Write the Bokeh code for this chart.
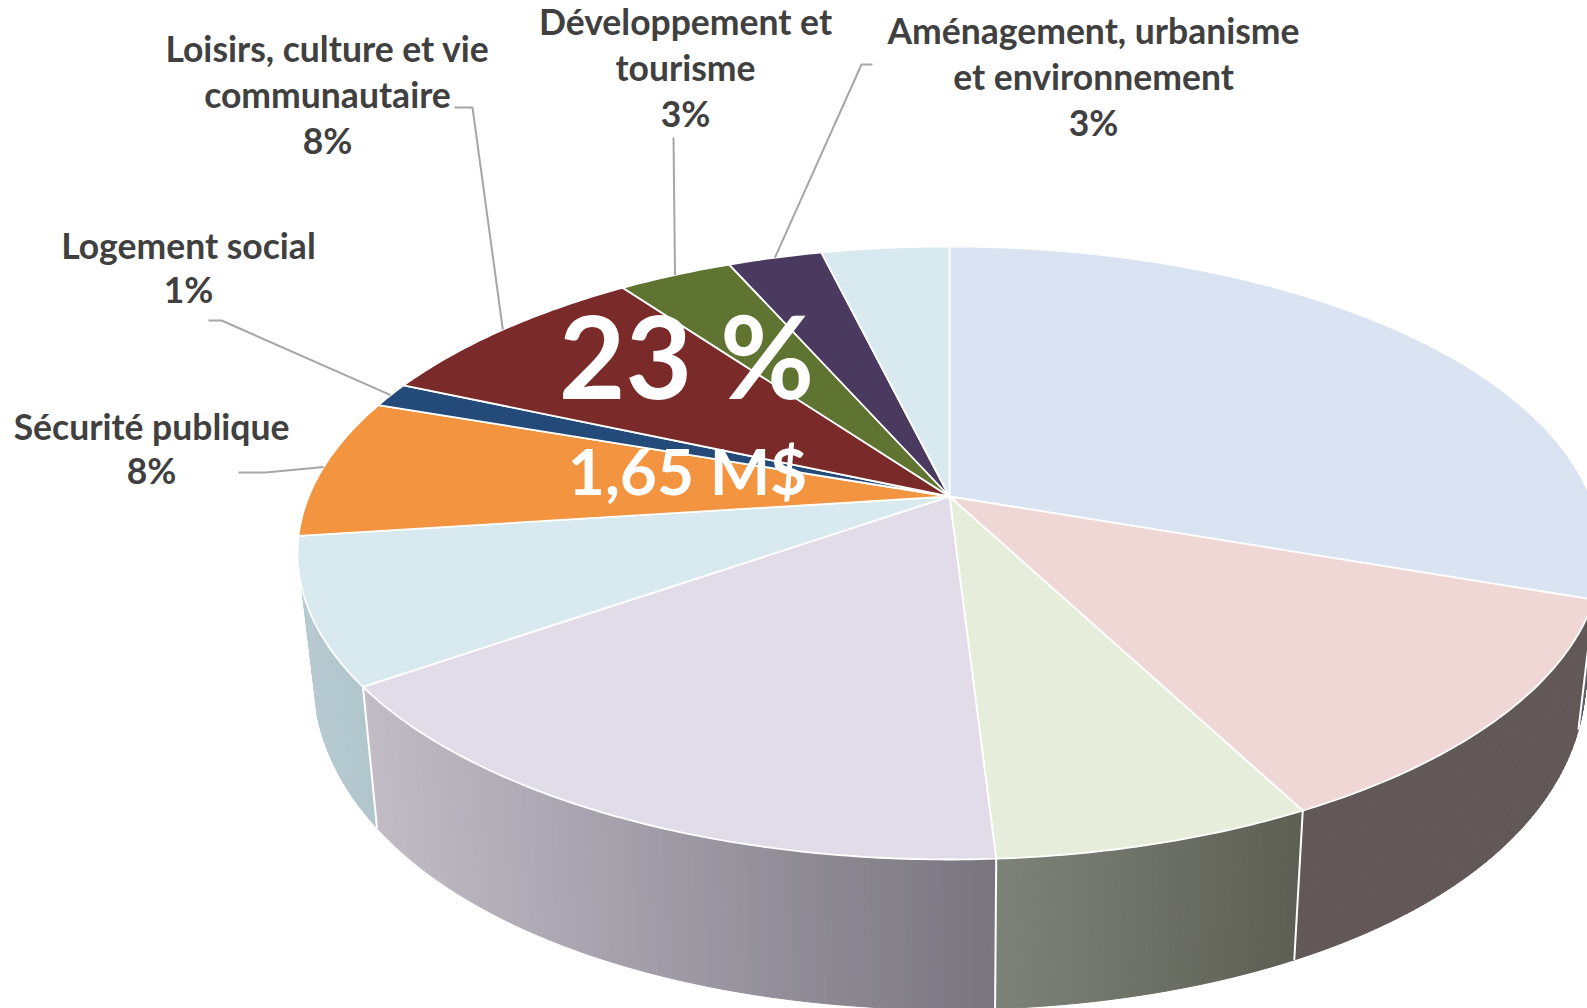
import numpy as np
from bokeh.plotting import figure
from bokeh.models import Range1d
from bokeh.core.properties import value
from bokeh.embed import file_html
from bokeh.resources import INLINE

# ---- data ----
slice_names = ["Administration", "Transport", "Hygiène", "Eau", "Autres", "Sécurité publique",
               "Logement social", "Loisirs, culture et vie communautaire",
               "Développement et tourisme", "Aménagement, urbanisme et environnement", "Divers"]
slice_values = [30.4, 12.1, 6.7, 16.25, 7.7, 7.4, 1.3, 8.45, 3.4, 2.8, 3.8]
top_colors = ["#DAE3F1", "#EED7D5", "#E6EDDB", "#E2DCE9", "#D8E9EF", "#F39441",
              "#234A78", "#7A2A28", "#5F7430", "#4A3A5F", "#D8E9EF"]
wall_left = ["#66666C", "#615857", "#7E8379", "#C3BDC8", "#B8CBD1", None, None, None, None, None, None]
wall_right = ["#66666C", "#615857", "#5D5E54", "#7A7680", "#B0C5CC", None, None, None, None, None, None]

label_lines = [
    ["Loisirs, culture et vie", "communautaire", "8%"],
    ["Développement et", "tourisme", "3%"],
    ["Aménagement, urbanisme", "et environnement", "3%"],
    ["Logement social", "1%"],
    ["Sécurité publique", "8%"],
]
big_text = "23 %"
sub_text = "1,65 M$"

# ---- layout ----
W, H = 1587, 1008
APEX_Y = 496
CX, EY, A, B = 949.0, 552.5, 652.0, 306.5
D = (APEX_Y - EY) / B
label_x = [327, 685, 1093, 188, 151]
label_y = [[48, 94, 140], [21, 67, 113], [30, 76, 122], [245, 289], [426, 470]]
leader_slice = [7, 8, 9, 6, 5]
leader_elbows = [[(454, 107), (472, 107)], [(673, 137)], [(872, 64), (861, 64)],
                 [(208, 320), (221, 320)], [(238, 472), (265, 472)]]
TEXT = "#404040"
GREY = "#A6A6A6"


def rim(frac):
    t = 2 * np.pi * np.asarray(frac, dtype=float)
    u, v = np.sin(t), -np.cos(t)
    den = 1 + D * v
    return CX + A * u * np.sqrt(1 - D * D) / den, EY + B * (v + D) / den


def lower(x, y):
    depth = 150 - 20 * ((860 - y) / 260) ** 2
    return x - 0.024 * (x - CX), y + depth


def mix(c0, c1, f):
    a = [int(c0[i:i + 2], 16) for i in (1, 3, 5)]
    b = [int(c1[i:i + 2], 16) for i in (1, 3, 5)]
    return "#%02x%02x%02x" % tuple(int(round(p + (q - p) * f)) for p, q in zip(a, b))


p = figure(width=W, height=H, x_range=Range1d(0, W), y_range=Range1d(H, 0),
           output_backend="svg", toolbar_location=None, min_border=0,
           x_axis_location=None, y_axis_location=None, outline_line_color=None,
           background_fill_color="white", border_fill_color="white")
p.grid.visible = False

total = sum(slice_values)
edges = np.concatenate([[0], np.cumsum(slice_values)]) / total
WALL_START, WALL_END = 0.278, 0.703

# walls
qx, qy, qc = [], [], []
seam_x, seam_y = [], []
for i in range(len(slice_values)):
    if wall_left[i] is None:
        continue
    f0, f1 = max(edges[i], WALL_START), min(edges[i + 1], WALL_END)
    if f1 <= f0:
        continue
    ts = np.linspace(f0, f1, 70)
    xs, ys = rim(ts)
    bx, by = lower(xs, ys)
    lo, hi = min(xs.min(), bx.min()), max(xs.max(), bx.max())
    for k in range(len(ts) - 1):
        qx.append([xs[k], xs[k + 1], bx[k + 1], bx[k]])
        qy.append([ys[k], ys[k + 1], by[k + 1], by[k]])
        qc.append(mix(wall_left[i], wall_right[i], ((xs[k] + bx[k]) / 2 - lo) / (hi - lo)))
p.patches(qx, qy, fill_color=qc, line_color=qc, line_width=1)

for e in edges[1:5]:
    x0, y0 = rim(e)
    x1, y1 = lower(x0, y0)
    seam_x.append([float(x0), float(x1)])
    seam_y.append([float(y0), float(y1)])
p.multi_line(seam_x, seam_y, line_color="white", line_width=2)

# top faces
fx, fy = [], []
for i in range(len(slice_values)):
    n = max(8, int(slice_values[i] * 6))
    xs, ys = rim(np.linspace(edges[i], edges[i + 1], n))
    fx.append([CX] + list(xs))
    fy.append([APEX_Y] + list(ys))
p.patches(fx, fy, fill_color=top_colors, line_color="white", line_width=1.8, line_join="round")

# leader lines
for s, elbow in zip(leader_slice, leader_elbows):
    x0, y0 = rim((edges[s] + edges[s + 1]) / 2)
    p.line([e[0] for e in elbow] + [float(x0)], [e[1] for e in elbow] + [float(y0)],
           line_color=GREY, line_width=2)

# labels
for lines, x, ys in zip(label_lines, label_x, label_y):
    p.text([x] * len(lines), ys, text=lines, text_align="center", text_baseline="middle",
           text_color=TEXT, text_font=value("Lato"), text_font_style="bold",
           text_font_size="35.5px")

p.text([686], [353], text=[big_text], text_align="center", text_baseline="middle",
       text_color="white", text_font=value("Lato"), text_font_style="bold", text_font_size="115px")
p.text([687], [470], text=[sub_text], text_align="center", text_baseline="middle",
       text_color="white", text_font=value("Lato"), text_font_style="bold", text_font_size="64px")

open("out.html", "w").write(file_html(p, INLINE))
